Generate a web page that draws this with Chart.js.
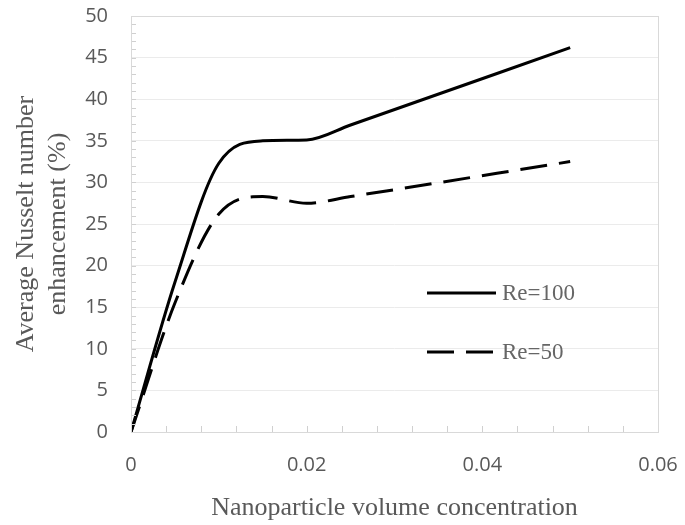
<!DOCTYPE html>
<html>
<head>
<meta charset="utf-8">
<script src="https://cdn.jsdelivr.net/npm/chart.js@4.4.1/dist/chart.umd.min.js"></script>
<style>
  html, body { margin: 0; padding: 0; background: #fff; }
  #wrap { width: 685px; height: 525px; }
</style>
</head>
<body>
<div id="wrap"><canvas id="nusselt" width="685" height="525"></canvas></div>
<script>
const concentration = [0, 0.005, 0.01, 0.015, 0.02, 0.025, 0.05];
const re100 = [0, 18, 32.3, 35, 35.1, 36.9, 46.2];
const re50 = [0, 15.5, 26.2, 28.3, 27.5, 28.3, 32.5];
const seriesLabels = ['Re=100', 'Re=50'];
const yTicks = [0, 5, 10, 15, 20, 25, 30, 35, 40, 45, 50];
const xTicks = [0, 0.02, 0.04, 0.06];

const toPoints = ys => concentration.map((x, i) => ({ x: x, y: ys[i] }));

// minor ticks, box border and the in-plot legend
const decorations = {
  id: 'decorations',
  afterDraw(chart) {
    const { ctx, chartArea: a, scales } = chart;
    ctx.save();
    ctx.strokeStyle = '#d0d0d0';
    ctx.lineWidth = 1;
    ctx.beginPath();
    for (let v = 0; v <= 50; v++) {
      const y = Math.round(scales.y.getPixelForValue(v)) + 0.5;
      ctx.moveTo(a.left, y);
      ctx.lineTo(a.left + 5, y);
    }
    for (let i = 0; i <= 15; i++) {
      const x = Math.round(scales.x.getPixelForValue(i * 0.004)) + 0.5;
      ctx.moveTo(x, a.bottom);
      ctx.lineTo(x, a.bottom - 6);
    }
    ctx.stroke();
    ctx.strokeStyle = '#d9d9d9';
    ctx.strokeRect(Math.round(a.left) + 0.5, Math.round(a.top) + 0.5, Math.round(a.right - a.left), Math.round(a.bottom - a.top));

    // legend
    const rows = [293, 352];
    chart.data.datasets.forEach((ds, i) => {
      ctx.strokeStyle = ds.borderColor;
      ctx.lineWidth = ds.borderWidth;
      ctx.setLineDash(ds.borderDash || []);
      ctx.beginPath();
      ctx.moveTo(427, rows[i]);
      ctx.lineTo(496, rows[i]);
      ctx.stroke();
      ctx.setLineDash([]);
      ctx.fillStyle = '#666666';
      ctx.font = '23px "Liberation Serif", "Times New Roman", serif';
      ctx.textBaseline = 'middle';
      ctx.fillText(ds.label, 502, rows[i] + 1);
    });
    ctx.restore();
  }
};

new Chart(document.getElementById('nusselt'), {
  type: 'scatter',
  data: {
    datasets: [
      {
        label: seriesLabels[0],
        data: toPoints(re100),
        showLine: true,
        borderColor: '#000000',
        borderWidth: 3,
        pointRadius: 0,
        cubicInterpolationMode: 'monotone'
      },
      {
        label: seriesLabels[1],
        data: toPoints(re50),
        showLine: true,
        borderColor: '#000000',
        borderWidth: 3,
        borderDash: [27, 12],
        pointRadius: 0,
        cubicInterpolationMode: 'monotone'
      }
    ]
  },
  options: {
    responsive: false,
    animation: false,
    layout: { padding: { top: 16, right: 27, left: 0, bottom: 0 } },
    plugins: {
      legend: { display: false },
      tooltip: { enabled: false }
    },
    scales: {
      x: {
        type: 'linear',
        min: 0,
        max: 0.06,
        afterBuildTicks: scale => { scale.ticks = xTicks.map(v => ({ value: v })); },
        afterFit: scale => {
          scale.height = 93;
          scale.paddingLeft = 0;
          scale.paddingRight = 0;
        },
        ticks: {
          padding: 21,
          color: '#595959',
          font: { family: '"Open Sans", "Noto Sans", sans-serif', size: 20 },
          callback: v => String(v)
        },
        grid: { display: false, drawTicks: false },
        border: { display: false },
        title: {
          display: true,
          text: 'Nanoparticle volume concentration',
          color: '#595959',
          font: { family: '"Liberation Serif", "Times New Roman", serif', size: 26 },
          padding: { top: 0, bottom: 1 }
        }
      },
      y: {
        min: 0,
        max: 50,
        afterBuildTicks: scale => { scale.ticks = yTicks.map(v => ({ value: v })); },
        afterFit: scale => {
          scale.width = 131;
          scale.paddingTop = 0;
          scale.paddingBottom = 0;
        },
        ticks: {
          padding: 23,
          color: '#595959',
          font: { family: '"Open Sans", "Noto Sans", sans-serif', size: 20 }
        },
        grid: { color: '#ebebeb', drawTicks: false },
        border: { display: false },
        title: {
          display: true,
          text: ['Average Nusselt number', 'enhancement (%)'],
          color: '#595959',
          font: { family: '"Liberation Serif", "Times New Roman", serif', size: 26, lineHeight: 1.2 },
          padding: { top: 11, bottom: 0 }
        }
      }
    }
  },
  plugins: [decorations]
});
</script>
</body>
</html>
